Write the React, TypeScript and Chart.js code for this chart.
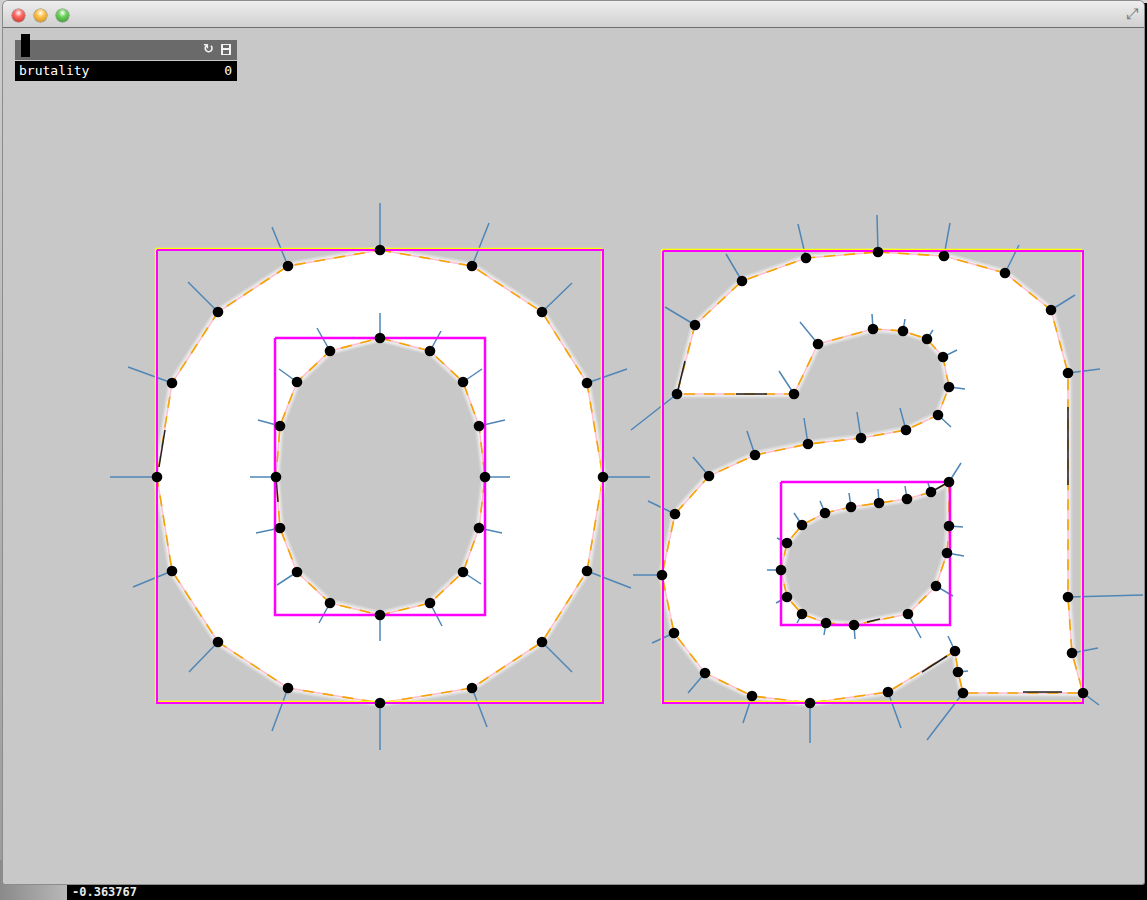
import { useEffect, useRef } from "react";
import { Chart, registerables } from "chart.js";

Chart.register(...registerables);

// glyph contours, points in screen pixels
const oOuter = [
  [380, 250], [472, 266], [542, 312], [587, 383], [603, 477], [587, 571], [542, 642], [472, 688],
  [380, 703], [288, 688], [218, 642], [172, 571], [157, 477], [172, 383], [218, 312], [288, 266],
];
const oOuterTips = [
  [380, 203], [489, 223], [572, 283], [627, 369], [650, 477], [631, 588], [572, 672], [487, 727],
  [380, 750], [272, 731], [189, 672], [133, 587], [110, 477], [128, 367], [188, 282], [272, 227],
];
const oInner = [
  [380, 338], [430, 351], [463, 382], [479, 426], [485, 477], [479, 528], [463, 572], [430, 603],
  [380, 615], [330, 603], [297, 572], [280, 528], [276, 477], [280, 426], [297, 382], [330, 351],
];
const oInnerTips = [
  [380, 313], [441, 331], [482, 369], [505, 420], [510, 477], [502, 533], [481, 584], [442, 626],
  [380, 641], [319, 623], [277, 585], [256, 533], [250, 477], [258, 420], [279, 369], [317, 328],
];
const aOuter = [
  [878, 252], [944, 256], [1005, 273], [1051, 310], [1068, 373], [1068, 597], [1072, 653], [1083, 693],
  [963, 693], [958, 672], [955, 651], [888, 692], [810, 703], [752, 696], [705, 673], [674, 633],
  [662, 575], [675, 514], [709, 476], [755, 455], [808, 444], [861, 438], [906, 430], [938, 415],
  [949, 387], [943, 357], [927, 339], [903, 331], [873, 329], [818, 344], [794, 394], [677, 394],
  [695, 325], [742, 281], [806, 258],
];
const aOuterTips = [
  [877, 215], [950, 223], [1019, 245], [1075, 295], [1100, 369], [1147, 595], [1098, 648], [1099, 705],
  [927, 740], [968, 671], [948, 636], [901, 728], [810, 743], [743, 723], [688, 693], [652, 643],
  [633, 575], [648, 501], [693, 457], [747, 431], [804, 418], [857, 412], [900, 408], [951, 427],
  [965, 389], [957, 350], [933, 330], [905, 319], [872, 314], [800, 322], [779, 371], [631, 430],
  [665, 307], [726, 254], [798, 224],
];
const aCounter = [
  [949, 482], [931, 492], [907, 499], [879, 503], [851, 507], [825, 513], [802, 525], [787, 543],
  [781, 570], [787, 597], [802, 614], [826, 623], [854, 625], [908, 614], [936, 586], [947, 553],
  [949, 526],
];
const aCounterTips = [
  [961, 463], [928, 483], [905, 486], [878, 489], [849, 493], [820, 501], [794, 513], [777, 538],
  [767, 570], [776, 603], [797, 623], [824, 635], [855, 639], [921, 638], [953, 596], [964, 556],
  [963, 527],
];
// bezier handle stubs that show through
const handles = [
  [[1068, 407], [1068, 485]],
  [[922, 672], [947, 656]],
  [[1023, 692], [1062, 692]],
  [[736, 394], [767, 394]],
  [[677, 394], [685, 361]],
  [[165, 430], [159, 467]],
  [[276, 477], [278, 502]],
  [[867, 622], [880, 619]],
  [[931, 492], [947, 483]],
];
// bounding boxes [x0, y0, x1, y1]
const outerBoxes = [[157, 250, 603, 703], [663, 251, 1083, 703]];
const innerBoxes = [[275, 338, 485, 615], [781, 482, 950, 625]];

const BG = "#c8c8c8";
const CX = 4;
const CY = 28;
const CW = 1139;
const CH = 855;

const pt = ([x, y]) => ({ x, y });
const gap = { x: null, y: null };
const closed = (pts) => [...pts, pts[0]].map(pt);
const segs = (pairs) => pairs.flatMap(([a, b]) => [pt(a), pt(b), gap]);
const rect = ([x0, y0, x1, y1], s = 0) => [
  { x: x0 + s, y: y0 + s }, { x: x1 + s, y: y0 + s }, { x: x1 + s, y: y1 + s },
  { x: x0 + s, y: y1 + s }, { x: x0 + s, y: y0 + s }, gap,
];

const contours = [oOuter, oInner, aOuter, aCounter];
const tips = [oOuterTips, oInnerTips, aOuterTips, aCounterTips];
const isHole = [false, true, false, true];

const line = (data, extra) => ({
  data,
  showLine: true,
  pointRadius: 0,
  pointHoverRadius: 0,
  tension: 0,
  spanGaps: false,
  fill: false,
  ...extra,
});

function GlyphChart() {
  const canvasRef = useRef(null);

  useEffect(() => {
    const datasets = [];
    contours.forEach((c, i) => {
      datasets.push(line(closed(c), {
        fill: "shape",
        backgroundColor: isHole[i] ? BG : "#ffffff",
        borderWidth: 0,
        borderColor: "rgba(0,0,0,0)",
        order: isHole[i] ? 19 : 20,
      }));
    });
    contours.forEach((c) => {
      // soft white halo around the glyph edge
      datasets.push(line(closed(c), { borderColor: "rgba(255,255,255,0.22)", borderWidth: 9, borderJoinStyle: "round", order: 16 }));
      datasets.push(line(closed(c), { borderColor: "rgba(255,255,255,0.35)", borderWidth: 6, borderJoinStyle: "round", order: 15 }));
      datasets.push(line(closed(c), { borderColor: "rgba(255,255,255,0.55)", borderWidth: 3, borderJoinStyle: "round", order: 14 }));
      datasets.push(line(closed(c), { borderColor: "#ffbfcc", borderWidth: 1.5, order: 12 }));
      datasets.push(line(closed(c), { borderColor: "#f5a400", borderWidth: 1.6, borderDash: [11, 9], order: 11 }));
    });
    datasets.push(line(segs(handles), { borderColor: "#222222", borderWidth: 1.5, order: 10 }));
    datasets.push(line(
      segs(contours.flatMap((c, i) => c.map((p, j) => [p, tips[i][j]]))),
      { borderColor: "#4f86b6", borderWidth: 1.5, order: 9 },
    ));
    datasets.push(line(outerBoxes.flatMap((b) => rect(b, -1.5)), { borderColor: "#ffff00", borderWidth: 1.5, order: 7 }));
    datasets.push(line(outerBoxes.flatMap((b) => rect(b)), { borderColor: "#ff00ff", borderWidth: 2, order: 6 }));
    datasets.push(line(innerBoxes.flatMap((b) => rect(b)), { borderColor: "#ff00ff", borderWidth: 2.5, order: 4 }));
    datasets.push({
      data: contours.flat().map(pt),
      showLine: false,
      pointRadius: 5.3,
      pointHoverRadius: 5.3,
      pointBackgroundColor: "#000000",
      pointBorderWidth: 0,
      order: 1,
    });

    const chart = new Chart(canvasRef.current, {
      type: "line",
      data: { datasets },
      options: {
        animation: false,
        responsive: false,
        events: [],
        layout: { padding: 0, autoPadding: false },
        plugins: { legend: { display: false }, tooltip: { enabled: false } },
        scales: {
          x: { type: "linear", min: CX, max: CX + CW, display: false },
          y: { type: "linear", min: CY, max: CY + CH, reverse: true, display: false },
        },
      },
    });
    return () => chart.destroy();
  }, []);

  return <canvas ref={canvasRef} width={CW} height={CH} style={{ display: "block" }} />;
}

const light = (c1, c2) => ({
  position: "absolute",
  top: 8,
  width: 13,
  height: 13,
  borderRadius: "50%",
  background: `radial-gradient(circle at 50% 30%, #fff 0%, ${c1} 35%, ${c2} 100%)`,
  boxShadow: "0 0 0 0.5px rgba(0,0,0,0.45)",
});

export default function App() {
  return (
    <div style={{ position: "fixed", left: 0, top: 0, width: 1147, height: 900, background: "#000", overflow: "hidden" }}>
      <div style={{ position: "absolute", left: 0, top: 0, width: 1147, height: 3, background: "#d8d8d8" }} />
      <div style={{ position: "absolute", left: 0, top: 0, width: 4, height: 900, background: "linear-gradient(#cfcfcf, #9a9a9a)" }} />
      <div style={{ position: "absolute", left: 0, top: 860, width: 67, height: 40, background: "linear-gradient(90deg, #8a8a8a, #b8b8b8)" }} />
      <div style={{ position: "absolute", left: 78, top: 874, color: "#d9d9d9", font: "bold 12px 'DejaVu Sans Mono', monospace" }}>0.902337</div>
      <div style={{ position: "absolute", left: 72, top: 885, color: "#e8e8e8", font: "bold 12px 'DejaVu Sans Mono', monospace" }}>-0.363767</div>

      <div style={{
        position: "absolute", left: 3, top: 1, width: 1141, height: 883, background: BG,
        borderRadius: "5px 5px 2px 2px", boxShadow: "0 0 0 1px #8c8c8c", overflow: "hidden",
      }}>
        <div style={{
          position: "absolute", left: 0, top: 0, width: "100%", height: 26,
          background: "linear-gradient(#eeeeee, #d0d0d0)", borderBottom: "1px solid #6f6f6f",
        }}>
          <div style={{ ...light("#ff6b63", "#c3271d"), left: 9 }} />
          <div style={{ ...light("#ffc34a", "#c98613"), left: 31 }} />
          <div style={{ ...light("#6fd35e", "#2c8f22"), left: 53 }} />
          <div style={{ position: "absolute", right: 6, top: 4, color: "#7a7a7a", font: "15px 'DejaVu Sans', sans-serif" }}>⤢</div>
        </div>
        <div style={{ position: "absolute", left: CX - 3, top: CY - 1 }}>
          <GlyphChart />
        </div>
        <div style={{ position: "absolute", left: 12, top: 39, width: 222, height: 20, background: "#6a6a6a" }} />
        <div style={{ position: "absolute", left: 18, top: 33, width: 9, height: 23, background: "#000" }} />
        <div style={{ position: "absolute", left: 200, top: 40, color: "#f2f2f2", font: "bold 13px 'DejaVu Sans', sans-serif" }}>↻</div>
        <div style={{ position: "absolute", left: 218, top: 43, width: 10, height: 11, background: "#f2f2f2" }}>
          <div style={{ position: "absolute", left: 2, top: 1, width: 6, height: 3, background: "#6a6a6a" }} />
          <div style={{ position: "absolute", left: 2, top: 6, width: 6, height: 4, background: "#6a6a6a" }} />
        </div>
        <div style={{
          position: "absolute", left: 12, top: 60, width: 222, height: 20, background: "#000", color: "#fff",
          font: "13px 'DejaVu Sans Mono', monospace", lineHeight: "20px", boxSizing: "border-box", padding: "0 5px 0 4px",
          display: "flex", justifyContent: "space-between",
        }}>
          <span>brutality</span>
          <span>0</span>
        </div>
      </div>
    </div>
  );
}
